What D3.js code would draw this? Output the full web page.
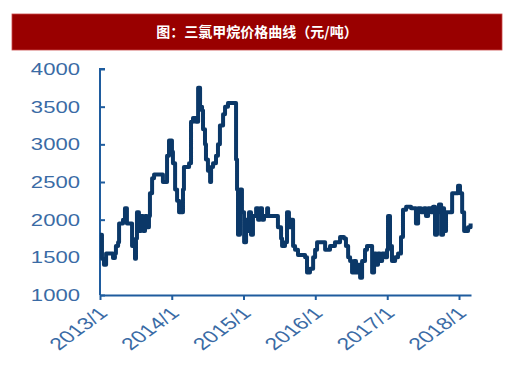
<!DOCTYPE html>
<html>
<head>
<meta charset="utf-8">
<script src="https://cdn.jsdelivr.net/npm/d3@7.9.0/dist/d3.min.js"></script>
<style>
  body { margin: 0; background: #fff; }
  svg { display: block; }
</style>
</head>
<body>
<svg width="520" height="386"></svg>
<script>
// chart title
const title = '图：三氯甲烷价格曲线（元/吨）';

// y axis ticks
const yTicks = [1000, 1500, 2000, 2500, 3000, 3500, 4000];

// x axis ticks (labels)
const xTickDates = ['2013-01-01', '2014-01-01', '2015-01-01', '2016-01-01', '2017-01-01', '2018-01-01'];
const xTickLabels = ['2013/1', '2014/1', '2015/1', '2016/1', '2017/1', '2018/1'];

// price series
const dates = [
  '2013-01-01','2013-01-11','2013-01-21','2013-02-01','2013-03-03','2013-03-08','2013-03-18','2013-03-23',
  '2013-04-03','2013-04-08','2013-04-28','2013-05-08','2013-05-18','2013-06-08','2013-06-13','2013-06-28',
  '2013-07-03','2013-07-08','2013-07-18','2013-07-29','2013-08-08','2013-08-18','2013-08-28','2013-09-07',
  '2013-09-12','2013-09-23','2013-10-03','2013-11-17','2013-12-03','2013-12-08','2013-12-18','2014-01-02',
  '2014-01-07','2014-01-18','2014-01-28','2014-02-07','2014-02-22','2014-02-27','2014-03-04','2014-03-14',
  '2014-03-30','2014-04-09','2014-04-19','2014-05-04','2014-05-15','2014-05-25','2014-06-04','2014-06-09',
  '2014-06-19','2014-06-24','2014-07-04','2014-07-15','2014-07-20','2014-07-30','2014-08-14','2014-08-24',
  '2014-09-03','2014-09-19','2014-09-29','2014-10-14','2014-11-14','2014-11-24','2014-11-29','2014-12-04',
  '2014-12-14','2014-12-24','2015-01-04','2015-01-14','2015-01-24','2015-01-29','2015-02-08','2015-02-18',
  '2015-03-06','2015-03-16','2015-03-26','2015-04-05','2015-04-15','2015-05-01','2015-05-06','2015-06-20',
  '2015-06-25','2015-07-11','2015-07-16','2015-07-31','2015-08-10','2015-08-20','2015-08-31','2015-09-10',
  '2015-09-20','2015-10-05','2015-11-10','2015-11-20','2015-12-05','2015-12-21','2015-12-31','2016-01-10',
  '2016-02-04','2016-02-20','2016-03-16','2016-04-10','2016-05-06','2016-05-26','2016-06-05','2016-06-16',
  '2016-06-26','2016-07-06','2016-07-16','2016-07-26','2016-08-05','2016-08-16','2016-08-26','2016-09-10',
  '2016-09-20','2016-10-05','2016-10-16','2016-10-26','2016-11-05','2016-11-15','2016-11-25','2016-12-06',
  '2016-12-21','2016-12-31','2017-01-05','2017-01-15','2017-01-25','2017-02-10','2017-02-25','2017-03-12',
  '2017-03-22','2017-04-07','2017-05-02','2017-05-17','2017-05-27','2017-06-07','2017-06-22','2017-07-07',
  '2017-07-17','2017-07-28','2017-08-12','2017-08-22','2017-09-01','2017-09-11','2017-09-21','2017-10-02',
  '2017-10-12','2017-10-17','2017-10-27','2017-11-11','2017-11-27','2017-12-12','2017-12-27','2018-01-06',
  '2018-01-17','2018-01-27','2018-02-16','2018-03-01'
];
const prices = [
  1800,1480,1400,1550,1550,1490,1550,1650,
  1700,1950,2000,2150,1950,1950,1650,1480,
  1750,2100,1850,2050,1850,2050,1900,2050,
  2350,2550,2600,2500,2500,2850,3050,2900,
  2750,2400,2250,2100,2100,2400,2700,2700,
  2750,3300,3350,3300,3750,3500,3450,3200,
  3000,2800,2650,2500,2700,2750,2850,3000,
  3250,3400,3500,3550,3550,2800,2400,1800,
  2400,2100,1700,2000,1850,2100,1800,2050,
  2150,2000,2150,2000,2050,2150,2050,2050,
  1900,1750,1650,1700,2100,1900,2000,1650,
  1600,1530,1500,1300,1350,1500,1600,1700,
  1700,1600,1650,1700,1770,1750,1650,1500,
  1450,1300,1450,1300,1400,1230,1450,1600,
  1650,1650,1300,1550,1400,1550,1450,1550,
  1500,1600,2050,1650,1450,1500,1550,1770,
  2130,2170,2150,2150,1950,2150,2100,2150,
  2050,2150,2100,2170,1800,2100,2200,1800,
  2150,1850,2100,2100,2350,2350,2450,2350,
  2100,1850,1900,1950
];

const parse = d3.timeParse('%Y-%m-%d');
const data = dates.map((d, i) => ({ date: parse(d), value: prices[i] }));

const svg = d3.select('svg');
const axisColor = '#1f5c9e';
const labelColor = '#3a6ba5';
const font = '"Liberation Sans", Arial, sans-serif';
// the source picture is a little stretched sideways
const stretch = 1.3;

// title banner
svg.append('rect')
  .attr('x', 12).attr('y', 14)
  .attr('width', 490).attr('height', 36)
  .attr('fill', '#990000')
  .attr('stroke', '#c84848').attr('stroke-width', 0.8);

svg.append('text')
  .attr('x', 257).attr('y', 37)
  .attr('text-anchor', 'middle')
  .attr('fill', '#fff')
  .attr('font-family', '"Noto Sans CJK SC", sans-serif')
  .attr('font-weight', 'bold')
  .attr('font-size', 14)
  .text(title);

// scales
const x = d3.scaleTime()
  .domain([parse('2013-01-01'), parse('2018-03-03')])
  .range([100, 471]);
const y = d3.scaleLinear()
  .domain([1000, 4000])
  .range([295, 69]);

// y axis: ticks point inward
const yAxis = svg.append('g')
  .attr('transform', 'translate(100,0)')
  .call(d3.axisRight(y).tickValues(yTicks).tickSize(5).tickFormat(''));
yAxis.select('.domain').attr('d', `M5,${y(4000)}H0V${y(1000)}`);
yAxis.selectAll('path, line').attr('stroke', axisColor).attr('stroke-width', 2);

svg.append('g').selectAll('text')
  .data(yTicks)
  .join('text')
  .attr('transform', d => `translate(80,${y(d)}) scale(${stretch},1)`)
  .attr('dy', '0.36em')
  .attr('text-anchor', 'end')
  .attr('fill', labelColor)
  .attr('font-family', font)
  .attr('font-size', 17)
  .text(d => d);

// x axis
const xAxis = svg.append('g')
  .attr('transform', 'translate(0,295)')
  .call(d3.axisBottom(x).tickValues(xTickDates.map(parse)).tickSize(5).tickSizeOuter(0).tickFormat(''));
xAxis.selectAll('path, line').attr('stroke', axisColor).attr('stroke-width', 2);

svg.append('g').selectAll('text')
  .data(xTickDates)
  .join('text')
  .attr('transform', d => `translate(${x(parse(d)) + 3},${310}) scale(${stretch + 0.05},1) rotate(-45)`)
  .attr('text-anchor', 'end')
  .attr('dy', '0.35em')
  .attr('fill', labelColor)
  .attr('font-family', font)
  .attr('font-size', 17)
  .text((d, i) => xTickLabels[i]);

// price line
const line = d3.line()
  .x(d => x(d.date))
  .y(d => y(d.value))
  .curve(d3.curveStepAfter);

svg.append('path')
  .datum(data)
  .attr('d', line)
  .attr('fill', 'none')
  .attr('stroke', '#0b3868')
  .attr('stroke-width', 4)
  .attr('stroke-linejoin', 'round');
</script>
</body>
</html>
